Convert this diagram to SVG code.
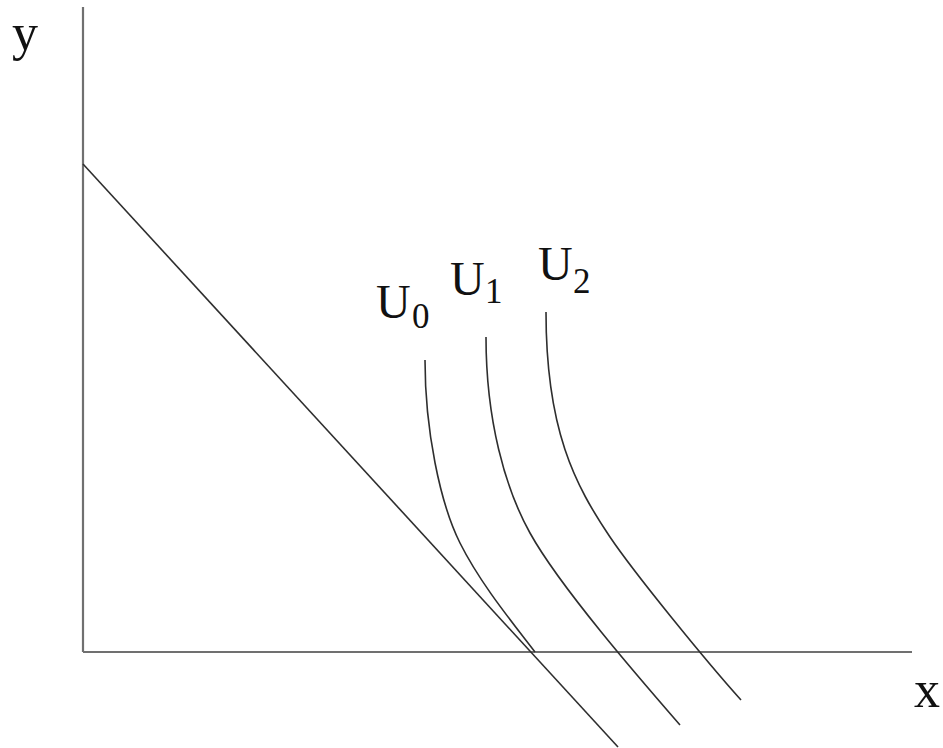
<svg xmlns="http://www.w3.org/2000/svg" width="943" height="748" viewBox="0 0 943 748">
<style>
.axis{stroke:#707070;stroke-width:2.2;fill:none}
.ln{stroke:#2e2e2e;stroke-width:1.6;fill:none}
.lbl{font-family:"Liberation Serif","Times New Roman",serif;fill:#111}
.u{font-size:48px}
.s{font-size:35px}
</style>
<rect width="943" height="748" fill="#fff"/>
<g id="connectors">
<line id="y-axis" class="axis" x1="83" y1="7" x2="83" y2="652"/>
<line id="x-axis" class="axis" x1="83" y1="652" x2="912" y2="652"/>
<line id="budget" class="ln" x1="83" y1="164" x2="618" y2="747"/>
</g>
<g id="U0">
<path class="ln" d="M425,360 C425,430 440,503 460,543 C480,583 512,622 535,652"/>
<text class="lbl u" x="376" y="318">U</text>
<text class="lbl s" x="412" y="328">0</text>
</g>
<g id="U1">
<path class="ln" d="M486,337 C486,420 505,488 530,533 C560,587 640,679 680,725"/>
<text class="lbl u" x="450" y="295">U</text>
<text class="lbl s" x="485" y="303">1</text>
</g>
<g id="U2">
<path class="ln" d="M546,312 C546,430 575,485 610,537 C635,574 706,661 741,700"/>
<text class="lbl u" x="538" y="280">U</text>
<text class="lbl s" x="573" y="293">2</text>
</g>
<g id="labels">
<text class="lbl" x="12" y="50" font-size="52">y</text>
<text class="lbl" x="914" y="707" font-size="52">x</text>
</g>
</svg>
